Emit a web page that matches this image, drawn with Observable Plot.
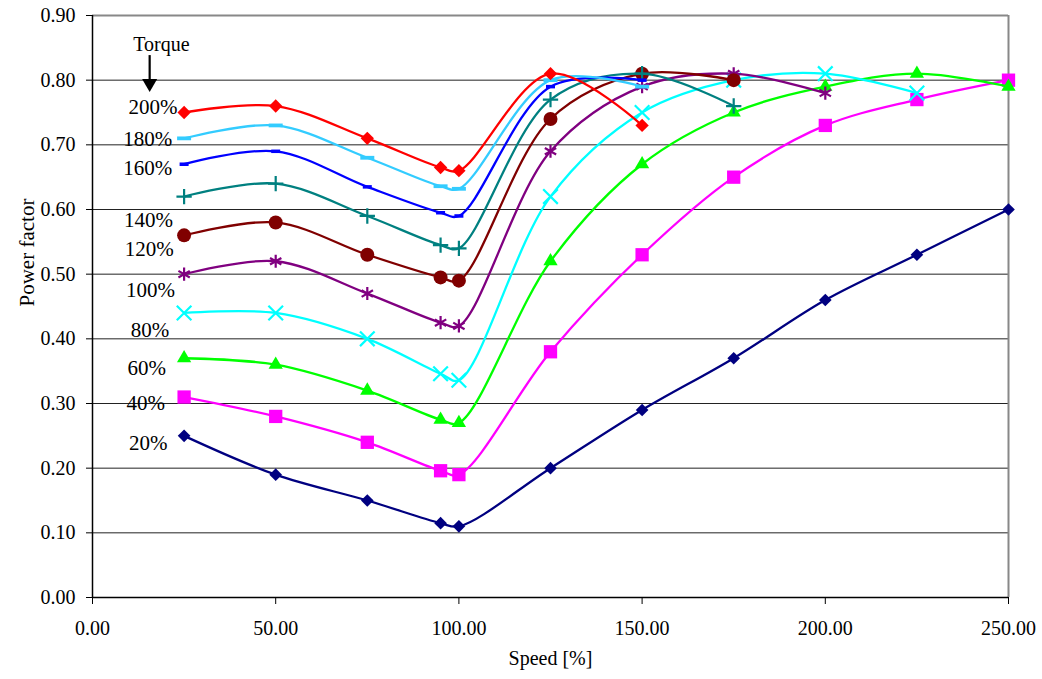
<!DOCTYPE html>
<html><head><meta charset="utf-8">
<script src="https://cdn.jsdelivr.net/npm/d3@7"></script>
<script src="https://cdn.jsdelivr.net/npm/@observablehq/plot@0.6"></script>
<style>body{margin:0;background:#fff}</style></head>
<body><div id="chart"></div>
<script>
// ---- data ----
const speeds = [25, 50, 75, 95, 100, 125, 150, 175, 200, 225, 250];
const torqueLevels = ["20%", "40%", "60%", "80%", "100%", "120%", "140%", "160%", "180%", "200%"];
const pf20  = [0.25, 0.19, 0.15, 0.115, 0.11, 0.20, 0.29, 0.37, 0.46, 0.53, 0.60];
const pf40  = [0.31, 0.28, 0.24, 0.196, 0.19, 0.38, 0.53, 0.65, 0.73, 0.77, 0.80];
const pf60  = [0.37, 0.36, 0.32, 0.275, 0.27, 0.52, 0.67, 0.75, 0.79, 0.81, 0.79];
const pf80  = [0.44, 0.44, 0.40, 0.346, 0.336, 0.62, 0.75, 0.80, 0.81, 0.78];
const pf100 = [0.50, 0.52, 0.47, 0.425, 0.42, 0.69, 0.79, 0.81, 0.78];
const pf120 = [0.56, 0.58, 0.53, 0.495, 0.49, 0.74, 0.81, 0.80];
const pf140 = [0.62, 0.64, 0.59, 0.545, 0.54, 0.77, 0.81, 0.76];
const pf160 = [0.67, 0.69, 0.635, 0.595, 0.59, 0.79, 0.80];
const pf180 = [0.71, 0.73, 0.68, 0.636, 0.632, 0.80, 0.79];
const pf200 = [0.75, 0.76, 0.71, 0.665, 0.66, 0.81, 0.73];
const xTicks = [0, 50, 100, 150, 200, 250];
const yTicks = [0, 0.1, 0.2, 0.3, 0.4, 0.5, 0.6, 0.7, 0.8, 0.9];
const xTitle = "Speed [%]";
const yTitle = "Power factor";
const annotationTitle = "Torque";
// annotation anchor positions (data units)
const labelSpeed = [15.2, 14.5, 14.8, 15.7, 15.8, 15.5, 15.3, 15.1, 15.1, 16.5];
const labelPF    = [0.239, 0.300, 0.355, 0.414, 0.475, 0.539, 0.584, 0.664, 0.709, 0.758];
const titleSpeed = 18.8, titlePF = 0.855;
const arrowSpeed = 15.6, arrowTopPF = 0.838, arrowBasePF = 0.80, arrowHeadPF = 0.795;

const seriesValues = [pf20, pf40, pf60, pf80, pf100, pf120, pf140, pf160, pf180, pf200];

// ---- styles ----
const dashSym = (hf) => ({draw(ctx, size) { const r = Math.sqrt(size / Math.PI); ctx.rect(-r, -r * hf, 2 * r, 2 * r * hf); }});
const styles = [
  {color: "#000080", symbol: "diamond2", r: 5.7, filled: true},
  {color: "#FF00FF", symbol: "square", r: 7.5, filled: true},
  {color: "#00FF00", symbol: "triangle", r: 5.3, filled: true},
  {color: "#00FFFF", symbol: "times", r: 6.7, filled: false},
  {color: "#800080", symbol: "asterisk", r: 6.2, filled: false},
  {color: "#800000", symbol: "circle", r: 7, filled: true},
  {color: "#008080", symbol: "plus", r: 5, filled: false},
  {color: "#0000FF", symbol: dashSym(0.39), r: 4.5, filled: true},
  {color: "#33CCFF", symbol: dashSym(0.27), r: 7, filled: true},
  {color: "#FF0000", symbol: "diamond2", r: 6, filled: true}
];

const series = torqueLevels.map((t, k) => seriesValues[k].map((v, i) => ({speed: speeds[i], pf: v, torque: t})));
const labels = torqueLevels.map((t, k) => ({speed: labelSpeed[k], pf: labelPF[k], text: t}));

const marks = [
  Plot.ruleY(yTicks, {stroke: "#222", strokeWidth: 1}),
  Plot.ruleX([250], {stroke: "#888", strokeWidth: 2}),
  Plot.ruleY([0.9], {stroke: "#888", strokeWidth: 2}),
  Plot.ruleX([0], {stroke: "#000", strokeWidth: 1.5}),
  Plot.ruleY([0], {stroke: "#000", strokeWidth: 1.5})
];
series.forEach((data, k) => {
  const s = styles[k];
  marks.push(Plot.line(data, {x: "speed", y: "pf", stroke: s.color, strokeWidth: 2.3, curve: "catmull-rom"}));
  marks.push(Plot.dot(data, s.filled
    ? {x: "speed", y: "pf", symbol: s.symbol, r: s.r, fill: s.color, stroke: "none"}
    : {x: "speed", y: "pf", symbol: s.symbol, r: s.r, fill: "none", stroke: s.color, strokeWidth: 2.2}));
});
marks.push(Plot.text(labels, {x: "speed", y: "pf", text: "text", fontSize: 21, fill: "#000", textAnchor: "middle"}));
marks.push(Plot.text([annotationTitle], {x: () => titleSpeed, y: () => titlePF, text: d => d, fontSize: 20, fill: "#000"}));
marks.push(Plot.ruleX([arrowSpeed], {y1: arrowTopPF, y2: arrowBasePF, stroke: "#000", strokeWidth: 2.2}));
marks.push(Plot.dot([0], {x: () => arrowSpeed, y: () => arrowHeadPF, symbol: "triangle", rotate: 180, r: 5.6, fill: "#000"}));
marks.push(Plot.text([xTitle], {frameAnchor: "bottom", dy: 67, text: d => d, fontSize: 20, fill: "#000"}));
marks.push(Plot.text([yTitle], {frameAnchor: "left", dx: -65, rotate: -90, text: d => d, fontSize: 21, fill: "#000"}));

const chart = Plot.plot({
  width: 1042,
  height: 679,
  marginLeft: 92,
  marginRight: 34,
  marginTop: 15,
  marginBottom: 82,
  style: {fontFamily: "Liberation Serif", fontSize: "20px", color: "#000", background: "#fff"},
  x: {domain: [0, 250], ticks: xTicks, tickFormat: d3.format(".2f"), tickSize: 7, tickPadding: 16, label: null},
  y: {domain: [0, 0.9], ticks: yTicks, tickFormat: d3.format(".2f"), tickSize: 6, tickPadding: 11, label: null},
  marks
});
document.getElementById("chart").append(chart);
</script>
</body></html>
